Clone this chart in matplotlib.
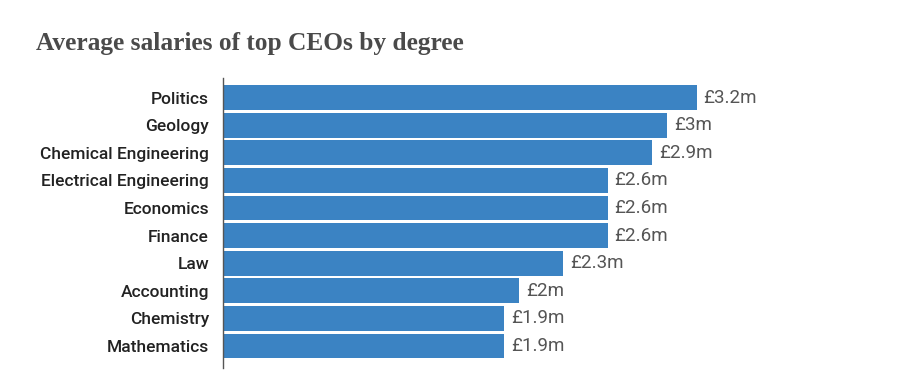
import matplotlib.pyplot as plt

degrees = ['Politics', 'Geology', 'Chemical Engineering', 'Electrical Engineering',
           'Economics', 'Finance', 'Law', 'Accounting', 'Chemistry', 'Mathematics']
salaries = [3.2, 3.0, 2.9, 2.6, 2.6, 2.6, 2.3, 2.0, 1.9, 1.9]
value_labels = ['£3.2m', '£3m', '£2.9m', '£2.6m', '£2.6m', '£2.6m',
                '£2.3m', '£2m', '£1.9m', '£1.9m']

bar_colour = '#3b83c3'
text_colour = '#222222'
value_colour = '#555555'

fig = plt.figure(figsize=(8.99, 3.84), dpi=100)
fig.patch.set_facecolor('white')

# axes placed so the spine sits where the reference has it
ax = fig.add_axes([223 / 899, 16 / 384, 578 / 899, 290 / 384])

pos = list(range(len(degrees)))
ax.barh(pos, salaries, height=0.9, color=bar_colour, edgecolor='none')

for p, v, lab in zip(pos, salaries, value_labels):
    ax.text(v + 0.045, p, lab, va='center', ha='left', fontsize=13.5,
            color=value_colour, family='Roboto')

ax.set_xlim(0, 578 / 148)
ax.set_ylim(9.8, -0.71)

ax.set_yticks(pos)
ax.set_yticklabels(degrees, fontsize=12.5, color=text_colour, family='Roboto',
                   fontweight='medium')
ax.tick_params(axis='y', length=0, pad=10)
ax.set_xticks([])

for s in ['top', 'right', 'bottom']:
    ax.spines[s].set_visible(False)
ax.spines['left'].set_color('#555555')
ax.spines['left'].set_linewidth(1.0)

fig.text(36 / 899, 1 - 50 / 384, 'Average salaries of top CEOs by degree',
         fontsize=18.3, fontweight='bold', color='#4a4a4a',
         family='Liberation Serif', ha='left', va='baseline')

fig.savefig('out.png', dpi=100, facecolor='white')
